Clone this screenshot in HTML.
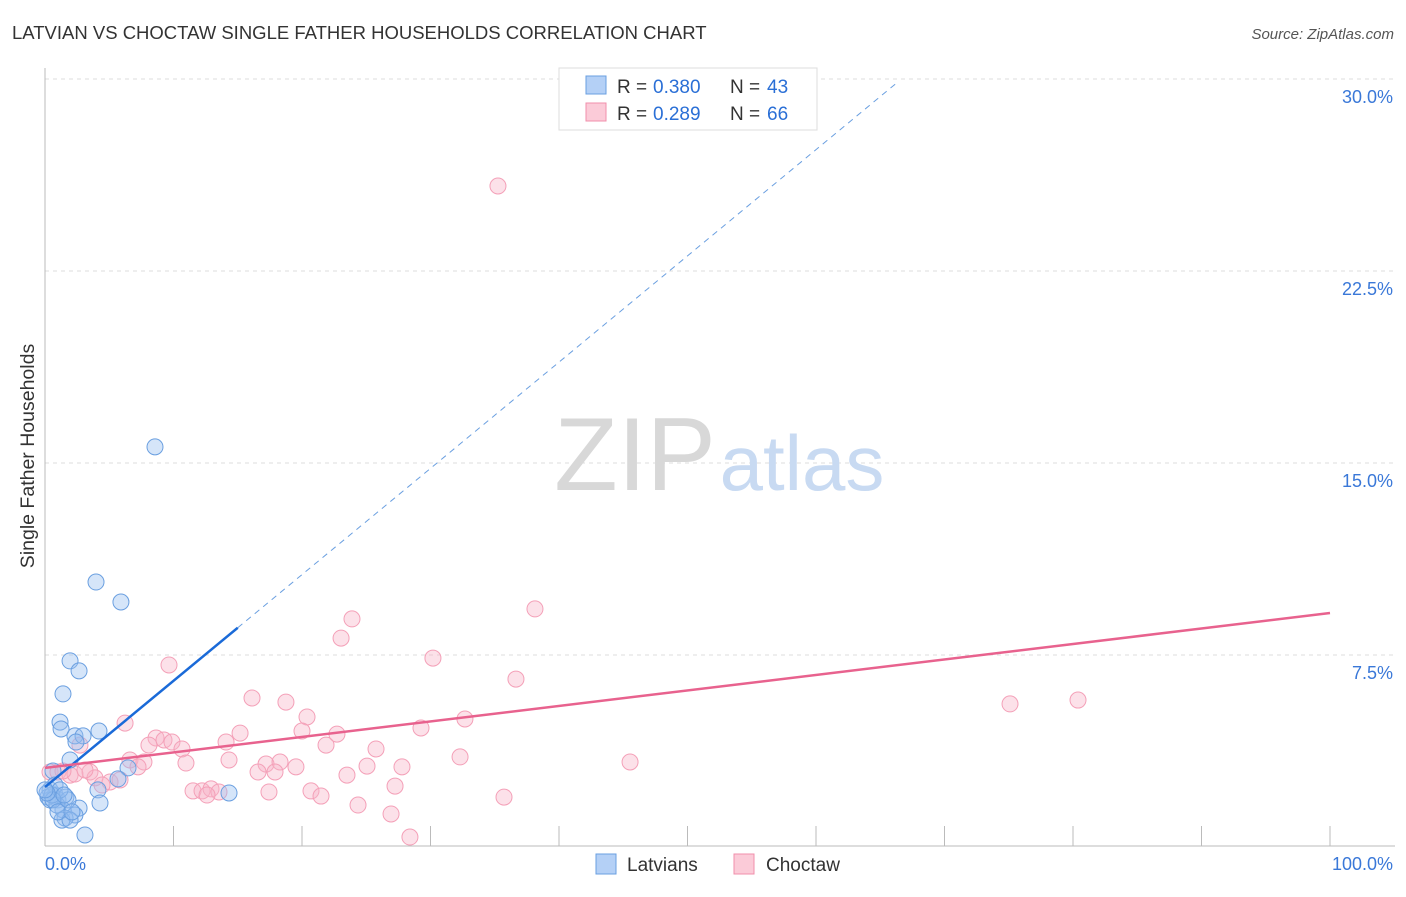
<!DOCTYPE html>
<html><head><meta charset="utf-8"><style>
body{margin:0;background:#fff;font-family:"Liberation Sans",sans-serif}
svg text{font-family:"Liberation Sans",sans-serif}
</style></head><body>
<svg id="chart" width="1406" height="892">
<text x="12" y="39" font-size="18.5" fill="#333">LATVIAN VS CHOCTAW SINGLE FATHER HOUSEHOLDS CORRELATION CHART</text>
<text x="1394" y="39" font-size="15" fill="#555" text-anchor="end" font-style="italic">Source: ZipAtlas.com</text>
<g id="grid"></g>
<g><text x="635" y="490" font-size="104" font-family="Liberation Serif,serif" fill="#d8d8d8" text-anchor="middle">ZIP</text><text x="802" y="490" font-size="78" fill="#c8daf2" text-anchor="middle">atlas</text></g>
<line x1="45" y1="68" x2="45" y2="846" stroke="#bbb"/>
<line x1="45" y1="846" x2="1395" y2="846" stroke="#bbb"/>
<g id="xticks"></g>
<g id="ylabels"></g>
<text x="45" y="870" font-size="18" fill="#3a78d8">0.0%</text>
<text x="1393" y="870" font-size="18" fill="#3a78d8" text-anchor="end">100.0%</text>
<text transform="translate(34,456) rotate(-90)" font-size="19.5" fill="#333" text-anchor="middle">Single Father Households</text>
<g id="pts"></g>
<g id="trends"></g>
<g>
<rect x="559" y="68" width="258" height="62" fill="#fff" stroke="#ddd"/>
<rect x="586" y="76" width="20" height="18" fill="#b4d0f6" stroke="#6a9fe0"/>
<text x="617" y="93" font-size="19" fill="#333">R =</text><text x="653" y="93" font-size="19" fill="#2a6fd6">0.380</text>
<text x="730" y="93" font-size="19" fill="#333">N =</text><text x="767" y="93" font-size="19" fill="#2a6fd6">43</text>
<rect x="586" y="103" width="20" height="18" fill="#fbcbd8" stroke="#f08fab"/>
<text x="617" y="120" font-size="19" fill="#333">R =</text><text x="653" y="120" font-size="19" fill="#2a6fd6">0.289</text>
<text x="730" y="120" font-size="19" fill="#333">N =</text><text x="767" y="120" font-size="19" fill="#2a6fd6">66</text>
</g>
<g>
<rect x="596" y="854" width="20" height="20" fill="#b4d0f6" stroke="#6a9fe0"/>
<text x="627" y="871" font-size="19" fill="#333">Latvians</text>
<rect x="734" y="854" width="20" height="20" fill="#fbcbd8" stroke="#f08fab"/>
<text x="766" y="871" font-size="19" fill="#333">Choctaw</text>
</g>
</svg>
<script>
const yTicks=[7.5,15,22.5,30];
const yTickLabels=["7.5%","15.0%","22.5%","30.0%"];
const latX=[8.56,3.97,5.91,1.95,2.65,1.40,1.17,1.25,4.20,2.33,2.96,2.41,1.95,0.62,6.46,5.68,4.12,14.32,4.28,0.39,0.78,0.23,1.01,1.63,1.40,2.65,2.33,1.56,1.32,1.95,3.11,0.78,0.39,0.93,0.54,1.79,1.17,0.62,0.16,1.01,2.10,1.48,0.0];
const latY=[15.63,10.35,9.57,7.27,6.88,5.98,4.88,4.61,4.53,4.34,4.34,4.10,3.40,2.97,3.09,2.66,2.23,2.11,1.72,2.23,2.03,1.95,1.84,1.95,1.45,1.52,1.25,1.13,1.05,1.05,0.47,2.42,1.84,1.64,2.03,1.84,2.23,1.84,2.11,1.37,1.37,2.03,2.23];
const choX=[35.25,38.13,23.89,23.04,9.65,30.19,36.65,16.11,18.75,75.10,80.39,20.39,32.68,6.23,29.26,20.00,15.18,22.72,8.64,9.26,9.88,8.09,2.72,10.66,21.87,14.09,25.76,32.30,6.61,7.70,10.97,14.32,7.24,17.20,18.29,19.53,25.06,27.78,45.53,3.50,16.58,17.90,23.50,0.39,1.01,1.95,2.33,3.89,5.06,4.44,5.84,27.24,11.52,12.22,12.92,13.54,12.61,17.43,20.70,21.48,35.72,24.36,26.93,28.40,1.40,3.11];
const choY=[25.82,9.30,8.91,8.16,7.11,7.38,6.56,5.82,5.66,5.59,5.74,5.08,5.00,4.84,4.65,4.53,4.45,4.41,4.26,4.18,4.10,3.98,3.98,3.83,3.98,4.10,3.83,3.52,3.40,3.32,3.28,3.40,3.13,3.24,3.32,3.13,3.16,3.13,3.32,2.93,2.93,2.93,2.81,2.93,2.93,2.81,2.85,2.70,2.54,2.42,2.62,2.38,2.19,2.19,2.27,2.15,2.03,2.15,2.19,1.99,1.95,1.64,1.29,0.39,2.97,3.01];
const latTrend=[2.34,0.415];
const choTrend=[3.09,9.14];
const NS="http://www.w3.org/2000/svg";
const sx=v=>45+v*12.85, sy=v=>847-v*25.6;
function mk(tag,parent,attrs){const e=document.createElementNS(NS,tag);for(const k in attrs)e.setAttribute(k,attrs[k]);parent.appendChild(e);return e;}
const grid=document.getElementById('grid'),yl=document.getElementById('ylabels');
yTicks.forEach((t,i)=>{
 const l=mk('line',grid,{x1:45,x2:1395,y1:sy(t),y2:sy(t),stroke:'#ddd','stroke-dasharray':'4,4'});
 
 
 const tx=mk('text',yl,{x:1393,y:sy(t)+24,'font-size':18,fill:'#3a78d8','text-anchor':'end'});
 tx.textContent=yTickLabels[i];
 
 
});
const xt=document.getElementById('xticks');
for(let i=0;i<=10;i++){const l=mk('line',xt,{x1:sx(i*10),x2:sx(i*10),y1:826,y2:846,stroke:'#bbb'});
 
 }
const pts=document.getElementById('pts');
choX.forEach((x,i)=>{const c=mk('circle',pts,{cx:sx(x),cy:sy(choY[i]),r:8,fill:'rgba(248,180,200,0.4)',stroke:'#f4a0b8','stroke-width':1});
 
 });
latX.forEach((x,i)=>{const c=mk('circle',pts,{cx:sx(x),cy:sy(latY[i]),r:8,fill:'rgba(150,190,240,0.4)',stroke:'#6a9fe0','stroke-width':1});
 
 });
const tr=document.getElementById('trends');
const lb=v=>latTrend[0]+latTrend[1]*v;
const l1=mk('line',tr,{x1:sx(0),y1:sy(lb(0)),x2:sx(15),y2:sy(lb(15)),stroke:'#1a6ad8','stroke-width':2.5});


const l2=mk('line',tr,{x1:sx(15),y1:sy(lb(15)),x2:sx(66.4),y2:sy(lb(66.4)),stroke:'#6a9fe0','stroke-width':1,'stroke-dasharray':'6,5'});


const l3=mk('line',tr,{x1:sx(0),y1:sy(choTrend[0]),x2:sx(100),y2:sy(choTrend[1]),stroke:'#e8628e','stroke-width':2.5});


</script>
</body></html>
